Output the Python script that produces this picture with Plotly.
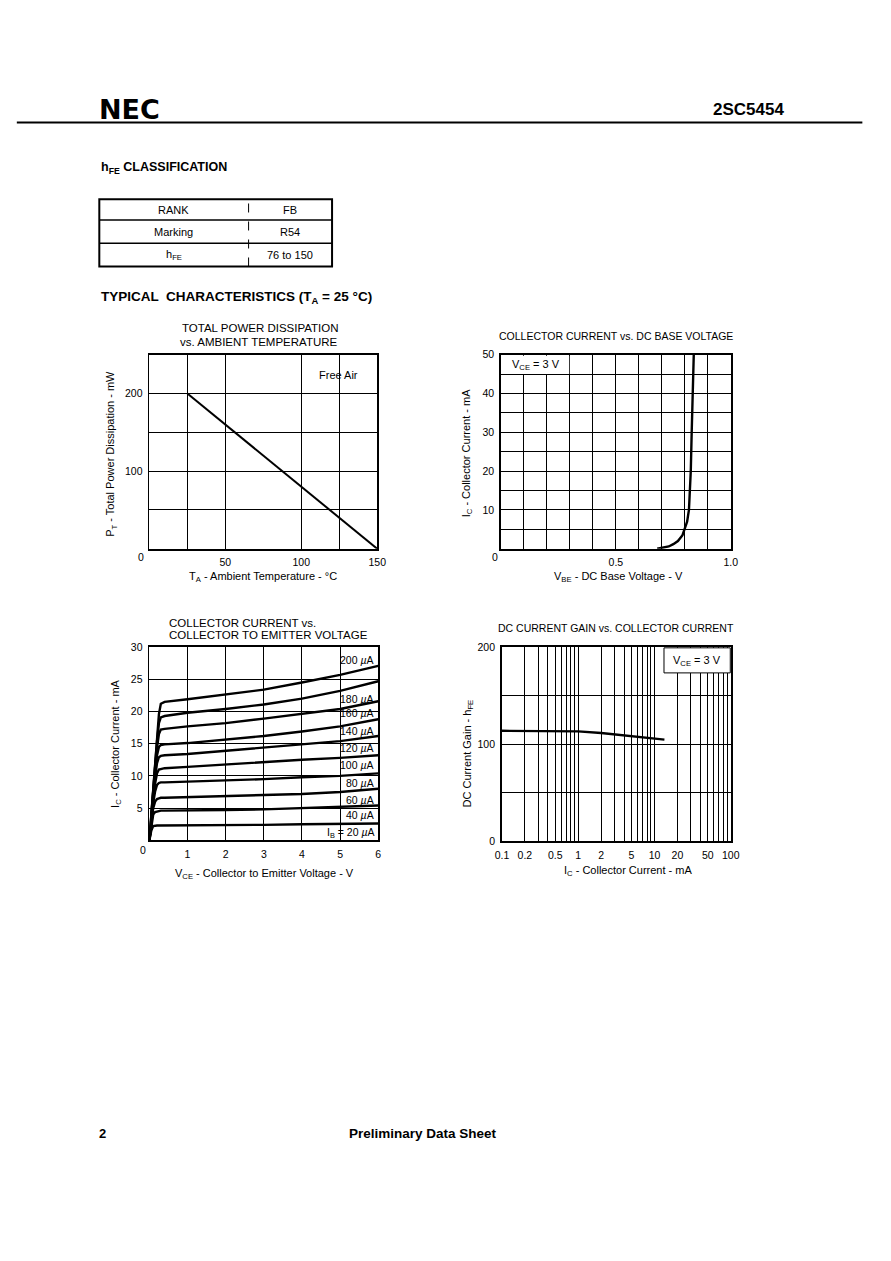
import plotly.graph_objects as go

W, H = 891, 1261
FONT = "Liberation Sans, Arial, sans-serif"

# ---------------- data ----------------
# hFE classification table
table_col1 = ["RANK", "Marking", "h<sub>FE</sub>"]
table_col2 = ["FB", "R54", "76 to 150"]

# Total power dissipation vs. ambient temperature (free air)
ta_c = [25, 150]
pt_mw = [200, 0]

# Collector current vs. DC base voltage (VCE = 3 V)
vbe_v = [0.68, 0.70, 0.73, 0.75, 0.77, 0.79, 0.80, 0.81, 0.818, 0.826, 0.830, 0.833, 0.839]
ic_vbe_ma = [0, 0.2, 0.6, 1.2, 2.0, 3.5, 5, 7, 10, 20, 30, 40, 50]

# Collector current vs. collector to emitter voltage
vce_v = [0, 0.05, 0.1, 0.15, 0.2, 0.25, 0.3, 0.4, 1, 2, 3, 4, 5, 6]
ib_ua = [20, 40, 60, 80, 100, 120, 140, 160, 180, 200]
ic_ib20 = [0, 1.5, 2.2, 2.3, 2.3, 2.3, 2.3, 2.35, 2.4, 2.4, 2.4, 2.5, 2.5, 2.6]
ic_ib40 = [0, 2.5, 4.0, 4.4, 4.5, 4.55, 4.6, 4.6, 4.6, 4.7, 4.8, 5.0, 5.1, 5.4]
ic_ib60 = [0, 3.0, 5.0, 6.0, 6.4, 6.5, 6.6, 6.6, 6.7, 6.8, 7.0, 7.2, 7.5, 8.0]
ic_ib80 = [0, 3.3, 5.8, 7.6, 8.6, 8.9, 9.0, 9.0, 9.1, 9.3, 9.5, 9.8, 10.0, 10.4]
ic_ib100 = [0, 3.5, 6.5, 8.8, 10.4, 11.0, 11.1, 11.2, 11.4, 11.8, 12.1, 12.5, 12.8, 13.2]
ic_ib120 = [0, 3.7, 7.0, 9.8, 12.0, 12.9, 13.1, 13.2, 13.4, 13.9, 14.4, 14.9, 15.4, 16.2]
ic_ib140 = [0, 3.9, 7.4, 10.6, 13.2, 14.5, 14.8, 14.9, 15.1, 15.6, 16.2, 16.9, 17.7, 18.8]
ic_ib160 = [0, 4.0, 7.8, 11.3, 14.4, 16.5, 17.2, 17.3, 17.7, 18.2, 18.9, 19.6, 20.4, 21.6]
ic_ib180 = [0, 4.1, 8.1, 11.9, 15.4, 18.2, 19.1, 19.3, 19.8, 20.4, 21.1, 22.0, 23.2, 24.7]
ic_ib200 = [0, 4.2, 8.4, 12.4, 16.2, 19.6, 21.2, 21.5, 21.9, 22.6, 23.4, 24.5, 25.7, 27.1]
ic_vce_curves = [ic_ib20, ic_ib40, ic_ib60, ic_ib80, ic_ib100,
                 ic_ib120, ic_ib140, ic_ib160, ic_ib180, ic_ib200]
ib_labels = ["I<sub>B</sub> = 20 <i>µ</i>A", "40 <i>µ</i>A", "60 <i>µ</i>A", "80 <i>µ</i>A",
             "100 <i>µ</i>A", "120 <i>µ</i>A", "140 <i>µ</i>A", "160 <i>µ</i>A",
             "180 <i>µ</i>A", "200 <i>µ</i>A"]
ib_label_pos_ma = [1.1, 3.9, 6.3, 8.9, 11.7, 14.4, 17.0, 19.7, 22.0, 28.0]

# DC current gain vs. collector current (VCE = 3 V)
ic_gain_ma = [0.1, 0.2, 0.5, 1, 2, 5, 10, 13.5]
hfe = [113.8, 113.6, 113.4, 113.2, 111.5, 108.5, 106.4, 104.7]

# tick labels
tl_xticks = [50, 100, 150]
tl_yticks = [100, 200]
tr_xticks = [0.5, 1.0]
tr_xtext = ["0.5", "1.0"]
tr_yticks = [10, 20, 30, 40, 50]
bl_xticks = [1, 2, 3, 4, 5, 6]
bl_yticks = [5, 10, 15, 20, 25, 30]
br_xticks = [0.1, 0.2, 0.5, 1, 2, 5, 10, 20, 50, 100]
br_xtext = ["0.1", "0.2", "0.5", "1", "2", "5", "10", "20", "50", "100"]
br_xminor = [0.3, 0.4, 0.6, 0.7, 0.8, 0.9, 3, 4, 6, 7, 8, 9, 30, 40, 60, 70, 80, 90]
br_yticks = [0, 100, 200]


# ---------------- helpers ----------------
def px(x):
    return x / W


def py(y):
    return 1 - y / H


def ann(text, x, y, size=11, xanchor="center", yanchor="middle", angle=0, family=FONT):
    return dict(text=text, x=px(x), y=py(y), xref="paper", yref="paper",
                showarrow=False, xanchor=xanchor, yanchor=yanchor, textangle=angle,
                font=dict(family=family, size=size, color="black"))


fig = go.Figure()

LINE = dict(color="black", width=2.4)
fig.add_trace(go.Scatter(x=ta_c, y=pt_mw, mode="lines", line=dict(color="black", width=2),
                         xaxis="x", yaxis="y"))
fig.add_trace(go.Scatter(x=vbe_v, y=ic_vbe_ma, mode="lines", line=LINE,
                         xaxis="x2", yaxis="y2"))
for ib, ic in zip(ib_ua, ic_vce_curves):
    fig.add_trace(go.Scatter(x=vce_v, y=ic, mode="lines", line=LINE, name=f"{ib} uA",
                             xaxis="x3", yaxis="y3"))
fig.add_trace(go.Scatter(x=ic_gain_ma, y=hfe, mode="lines", line=LINE,
                         xaxis="x4", yaxis="y4"))

tickfont = dict(family=FONT, size=10.5, color="black")


def axis(domain, rng, tickvals, anchor, ticktext=None, minor=None, typ="linear"):
    d = dict(domain=domain, range=rng, tickmode="array", tickvals=tickvals,
             showline=True, mirror=True, linecolor="black", linewidth=1.8,
             showgrid=True, gridcolor="black", gridwidth=1, zeroline=False,
             ticks="", tickfont=tickfont, anchor=anchor, type=typ,
             ticklabelstandoff=3, fixedrange=True)
    if ticktext is not None:
        d["ticktext"] = ticktext
    if minor is not None:
        d["minor"] = dict(tickmode="array", tickvals=minor, showgrid=True,
                          gridcolor="black", gridwidth=1, ticks="")
    return d


TOPY = [py(548), py(352)]
fig.update_layout(
    width=W, height=H, margin=dict(l=0, r=0, t=0, b=0),
    paper_bgcolor="white", plot_bgcolor="white", showlegend=False,
    xaxis=axis([px(145), px(377)], [0, 150], tl_xticks, "y", minor=[25, 125]),
    yaxis=axis(TOPY, [0, 250], tl_yticks, "x", minor=[50, 150]),
    xaxis2=axis([px(503), px(737)], [0, 1], tr_xticks, "y2", ticktext=tr_xtext,
                minor=[0.1, 0.2, 0.3, 0.4, 0.6, 0.7, 0.8, 0.9]),
    yaxis2=axis(TOPY, [0, 50], tr_yticks, "x2", minor=[5, 15, 25, 35, 45]),
    xaxis3=axis([px(145), px(378)], [0, 6], bl_xticks, "y3"),
    yaxis3=axis([py(842.3), py(647.3)], [0, 30], bl_yticks, "x3"),
    xaxis4=axis([px(504), px(737)], [-1, 2], br_xticks, "y4", ticktext=br_xtext,
                minor=br_xminor, typ="log"),
    yaxis4=axis([py(843.3), py(647.3)], [0, 200], br_yticks, "x4", minor=[50, 150]),
)

shapes = []
# header rule
shapes.append(dict(type="line", xref="paper", yref="paper", x0=px(10), x1=px(871),
                   y0=py(117.5), y1=py(117.5), line=dict(color="black", width=2)))
# table
shapes.append(dict(type="rect", xref="paper", yref="paper", x0=px(94), x1=px(331),
                   y0=py(263), y1=py(195), line=dict(color="black", width=2)))
for yy in (216, 239.5):
    shapes.append(dict(type="line", xref="paper", yref="paper", x0=px(94), x1=px(331),
                       y0=py(yy), y1=py(yy), line=dict(color="black", width=1.5)))
shapes.append(dict(type="line", xref="paper", yref="paper", x0=px(246), x1=px(246),
                   y0=py(263), y1=py(195), line=dict(color="black", width=1, dash="dash")))
# legend boxes (paper coordinates of the plot corners)
shapes.append(dict(type="rect", xref="paper", yref="paper", x0=px(504), x1=px(572.5),
                   y0=py(371.5), y1=py(353), fillcolor="white", line=dict(width=0),
                   layer="above"))
shapes.append(dict(type="rect", xref="paper", yref="paper", x0=px(669), x1=px(736.5),
                   y0=py(673.3), y1=py(648), fillcolor="white",
                   line=dict(color="black", width=1), layer="above"))
fig.update_layout(shapes=shapes)

annotations = [
    ann("<b>NEC</b>", 92, 104, size=27, xanchor="left", family="DejaVu Sans, sans-serif"),
    ann("<b>2SC5454</b>", 793, 104, size=17, xanchor="right"),
    ann("<b>h<sub>FE</sub> CLASSIFICATION</b>", 94, 164, size=12.5, xanchor="left"),
    ann("<b>TYPICAL  CHARACTERISTICS (T<sub>A</sub> = 25 °C)</b>", 94, 294, size=13.5,
        xanchor="left"),
    ann("<b>2</b>", 97, 1138, size=13, xanchor="center"),
    ann("<b>Preliminary Data Sheet</b>", 424, 1138, size=13.5),
    # chart titles
    ann("TOTAL POWER DISSIPATION", 258, 325.5, size=11.5),
    ann("vs. AMBIENT TEMPERATURE", 257, 339.5, size=11.5),
    ann("COLLECTOR CURRENT vs. DC BASE VOLTAGE", 620, 333, size=10.5),
    ann("COLLECTOR CURRENT vs.", 163, 623, size=11.5, xanchor="left"),
    ann("COLLECTOR TO EMITTER VOLTAGE", 163, 635.5, size=11.5, xanchor="left"),
    ann("DC CURRENT GAIN vs. COLLECTOR CURRENT", 620, 628, size=10.5),
    # axis titles
    ann("P<sub>T</sub> - Total Power Dissipation - mW", 106, 452, size=11, angle=-90),
    ann("T<sub>A</sub> - Ambient Temperature - °C", 261, 576.5, size=11),
    ann("I<sub>C</sub> - Collector Current - mA", 468, 452, size=11, angle=-90),
    ann("V<sub>BE</sub> - DC Base Voltage - V", 623, 576.5, size=11),
    ann("I<sub>C</sub> - Collector Current - mA", 111, 745, size=11, angle=-90),
    ann("V<sub>CE</sub> - Collector to Emitter Voltage - V", 262, 876, size=11),
    ann("DC Current Gain - h<sub>FE</sub>", 469, 755, size=11, angle=-90),
    ann("I<sub>C</sub> - Collector Current - mA", 632, 873.5, size=11),
]
# table text
for i, (a, b) in enumerate(zip(table_col1, table_col2)):
    yy = [205.5, 228, 251][i]
    annotations.append(ann(a, 170, yy, size=11))
    annotations.append(ann(b, 288, yy, size=11))

# corner zeros (shared origin tick labels)
for xr, yr, dx, dy in (("x", "y", -8, -8), ("x2", "y2", -6, -8), ("x3", "y3", -6, -10)):
    annotations.append(dict(text="0", x=0, y=0, xref=xr, yref=yr, showarrow=False,
                            xshift=dx, yshift=dy, font=tickfont))

# in-plot notes
annotations.append(ann("Free Air", 338, 372.5, size=11))
annotations.append(ann("V<sub>CE</sub> = 3 V", 539, 362, size=11))
annotations.append(ann("V<sub>CE</sub> = 3 V", 703, 661, size=11))
# base current labels
for lab, yv in zip(ib_labels, ib_label_pos_ma):
    annotations.append(dict(text=lab, x=6, y=yv, xref="x3", yref="y3", showarrow=False,
                            xanchor="right", xshift=-2,
                            font=dict(family=FONT, size=10.5, color="black")))

fig.update_layout(annotations=annotations)
fig.write_html(
    "out.html",
    config={"displayModeBar": False, "staticPlot": True},
    post_script="document.body.style.margin='0px';document.body.style.overflow='hidden';",
)
